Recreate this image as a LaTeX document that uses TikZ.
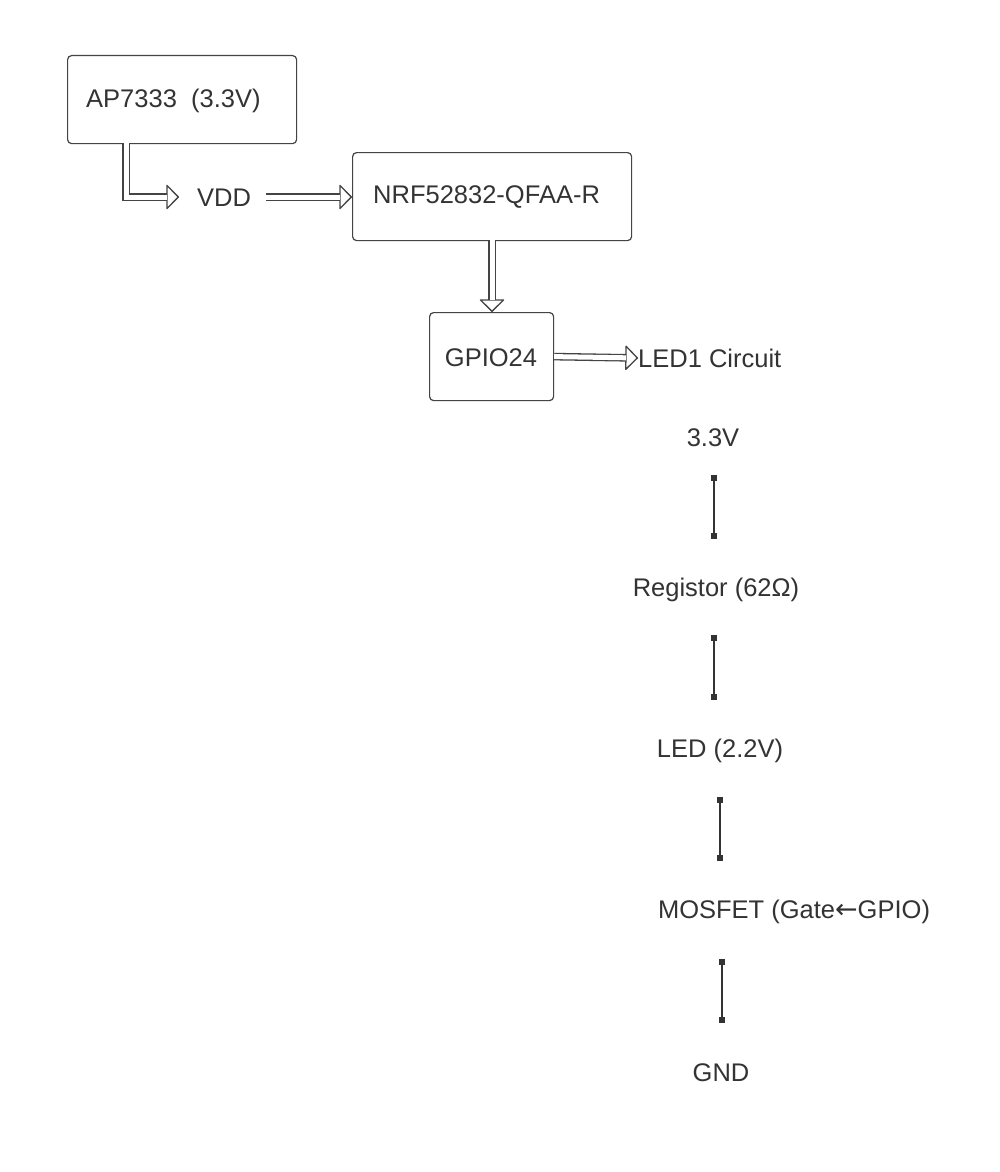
\documentclass[tikz,border=0pt]{standalone}
\usepackage{fontspec}
\setmainfont{Liberation Sans}
\newfontfamily\arrowfont{DejaVu Sans}
\usetikzlibrary{arrows.meta}
\definecolor{txt}{HTML}{333333}
\definecolor{ln}{HTML}{444444}
\begin{document}
\begin{tikzpicture}[x=1pt,y=-1pt,
  box/.style={draw=ln, line width=1.2pt, rounded corners=4pt, text=txt, font=\fontsize{25.5}{30}\selectfont},
  lbl/.style={inner sep=0pt, text=txt, font=\fontsize{25.5}{30}\selectfont},
  dblhead/.style={draw=ln, line width=1.3pt, -{Triangle[length=13pt, width=26pt, fill=white, line join=round]}},
  dbl/.style={draw=ln, double=white, double distance=5pt, line width=1.3pt, shorten >=12pt},
  wire/.style={draw=black!80, line width=1.5pt, {Square[length=6pt,width=6pt]}-{Square[length=6pt,width=6pt]}}]
\useasboundingbox[fill=white] (0,0) rectangle (1000,1172);
% boxes
\node[box, minimum width=229pt, minimum height=88pt, anchor=north west] (ap) at (67,55) {};
\node[lbl, anchor=west] (aptxt) at (86,101) {AP7333\ \ (3.3V)};
\node[box, minimum width=279pt, minimum height=88pt, anchor=north west] (nrf) at (352,152) {};
\node[lbl, anchor=west] (nrftxt) at (373,197) {NRF52832-QFAA-R};
\node[box, minimum width=124pt, minimum height=88pt, anchor=north west] (gpio) at (429,312) {};
\node[lbl] (gpiotxt) at (491,358) {GPIO24};
% labels
\node[lbl] (vdd) at (224,198) {VDD};
\node[lbl, anchor=west] (led1) at (638,358) {LED1 Circuit};
\node[lbl] (v33) at (713,438) {3.3V};
\node[lbl] (reg) at (716,590) {Registor (62Ω)};
\node[lbl] (led) at (720,751) {LED (2.2V)};
\node[lbl] (mos) at (794,912) {MOSFET (Gate{\arrowfont\fontsize{27}{30}\selectfont ←}GPIO)};
\node[lbl] (gnd) at (721,1073) {GND};
% double arrows
\coordinate (apout) at (126,143);
\coordinate (vddin) at (179,197);
\coordinate (vddout) at (266,197);
\coordinate (nrfout) at (492,240);
\coordinate (gpioin) at (492,312);
\draw[dblhead] (apout) |- (vddin);
\draw[dbl] (apout) |- (vddin);
\draw[dblhead] (vddout) -- (nrf.west |- vddout);
\draw[dbl] (vddout) -- (nrf.west |- vddout);
\draw[dblhead] (nrfout) -- (gpioin);
\draw[dbl] (nrfout) -- (gpioin);
\draw[dblhead] (gpio.east) -- (led1.west);
\draw[dbl] (gpio.east) -- (led1.west);
% wires
\coordinate (w1a) at (714,475); \coordinate (w1b) at (714,539);
\coordinate (w2a) at (714,635); \coordinate (w2b) at (714,700);
\coordinate (w3a) at (720,797); \coordinate (w3b) at (720,861);
\coordinate (w4a) at (722,959); \coordinate (w4b) at (722,1023);
\draw[wire] (w1a) -- (w1b);
\draw[wire] (w2a) -- (w2b);
\draw[wire] (w3a) -- (w3b);
\draw[wire] (w4a) -- (w4b);
\end{tikzpicture}
\end{document}
